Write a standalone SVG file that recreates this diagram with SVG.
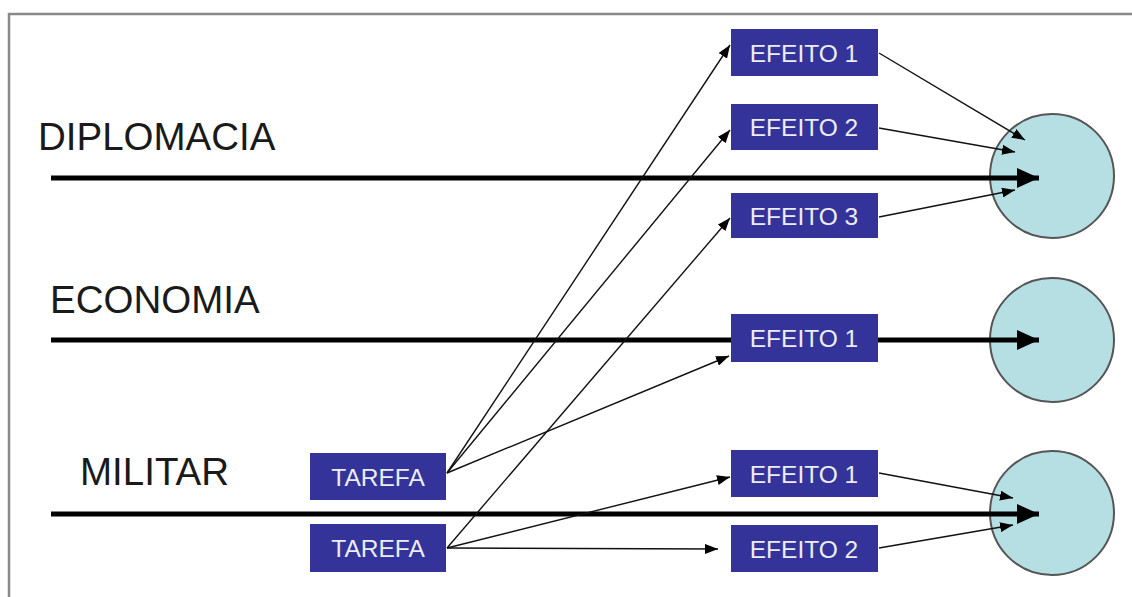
<svg xmlns="http://www.w3.org/2000/svg" width="1132" height="597" viewBox="0 0 1132 597">
<style>
.frame{stroke:#8a8a8a;stroke-width:2.5;fill:none}
.lbl{font-family:"Liberation Sans",Arial,sans-serif;font-size:38.5px;fill:#1a1a1a}
.box rect{fill:#333399}
.box text{font-family:"Liberation Sans",Arial,sans-serif;font-size:24.5px;fill:#ececf4;text-anchor:middle}
.goal{fill:#b5dfe2;stroke:#555;stroke-width:2}
.thick{stroke:#000;stroke-width:5;fill:none}
.thin{stroke:#111;stroke-width:1.4;fill:none}
</style>
<defs>
<marker id="big" viewBox="0 0 22 20" refX="22" refY="10" markerWidth="22" markerHeight="20" markerUnits="userSpaceOnUse" orient="auto">
<path d="M0,0 L22,10 L0,20 z" fill="#000"/>
</marker>
<marker id="sm" viewBox="0 0 13 10" refX="13" refY="5" markerWidth="13" markerHeight="10" markerUnits="userSpaceOnUse" orient="auto">
<path d="M0,0 L13,5 L0,10 z" fill="#000"/>
</marker>
</defs>
<rect width="1132" height="597" fill="#fff"/>
<path class="frame" d="M9,597 L9,14 L1132,14"/>
<text class="lbl" x="38" y="150">DIPLOMACIA</text>
<text class="lbl" x="50" y="313">ECONOMIA</text>
<text class="lbl" x="80" y="485">MILITAR</text>
<g id="goal1"><circle class="goal" cx="1052" cy="176" r="62"/></g>
<g id="goal2"><circle class="goal" cx="1052" cy="340" r="62"/></g>
<g id="goal3"><circle class="goal" cx="1052" cy="513" r="62"/></g>
<g id="connectors">
<line class="thick" x1="51" y1="178" x2="1039" y2="178" marker-end="url(#big)"/>
<line class="thick" x1="51" y1="340" x2="1039" y2="340" marker-end="url(#big)"/>
<line class="thick" x1="51" y1="514" x2="1039" y2="514" marker-end="url(#big)"/>
<line class="thin" x1="447" y1="473" x2="730" y2="45" marker-end="url(#sm)"/>
<line class="thin" x1="447" y1="473" x2="730" y2="130" marker-end="url(#sm)"/>
<line class="thin" x1="447" y1="473" x2="729" y2="356" marker-end="url(#sm)"/>
<line class="thin" x1="447" y1="548" x2="730" y2="218" marker-end="url(#sm)"/>
<line class="thin" x1="447" y1="548" x2="730" y2="477" marker-end="url(#sm)"/>
<line class="thin" x1="447" y1="548" x2="718" y2="549" marker-end="url(#sm)"/>
<line class="thin" x1="879" y1="53" x2="1025" y2="140" marker-end="url(#sm)"/>
<line class="thin" x1="879" y1="128" x2="1015" y2="152" marker-end="url(#sm)"/>
<line class="thin" x1="879" y1="217" x2="1015" y2="190" marker-end="url(#sm)"/>
<line class="thin" x1="879" y1="473" x2="1013" y2="498" marker-end="url(#sm)"/>
<line class="thin" x1="879" y1="548" x2="1013" y2="525" marker-end="url(#sm)"/>
</g>
<g id="efeito1a" class="box"><rect x="731" y="29" width="147" height="47"/><text x="804" y="61.5">EFEITO 1</text></g>
<g id="efeito2a" class="box"><rect x="731" y="104" width="147" height="46"/><text x="804" y="136">EFEITO 2</text></g>
<g id="efeito3a" class="box"><rect x="731" y="193" width="147" height="45"/><text x="804" y="224.5">EFEITO 3</text></g>
<g id="efeito1b" class="box"><rect x="731" y="314" width="147" height="48"/><text x="804" y="347">EFEITO 1</text></g>
<g id="efeito1c" class="box"><rect x="731" y="450" width="147" height="47"/><text x="804" y="482.5">EFEITO 1</text></g>
<g id="efeito2c" class="box"><rect x="731" y="525" width="147" height="47"/><text x="804" y="557.5">EFEITO 2</text></g>
<g id="tarefa1" class="box"><rect x="310" y="453" width="136" height="47"/><text x="378" y="485.5">TAREFA</text></g>
<g id="tarefa2" class="box"><rect x="310" y="524" width="136" height="48"/><text x="378" y="557">TAREFA</text></g>
</svg>
